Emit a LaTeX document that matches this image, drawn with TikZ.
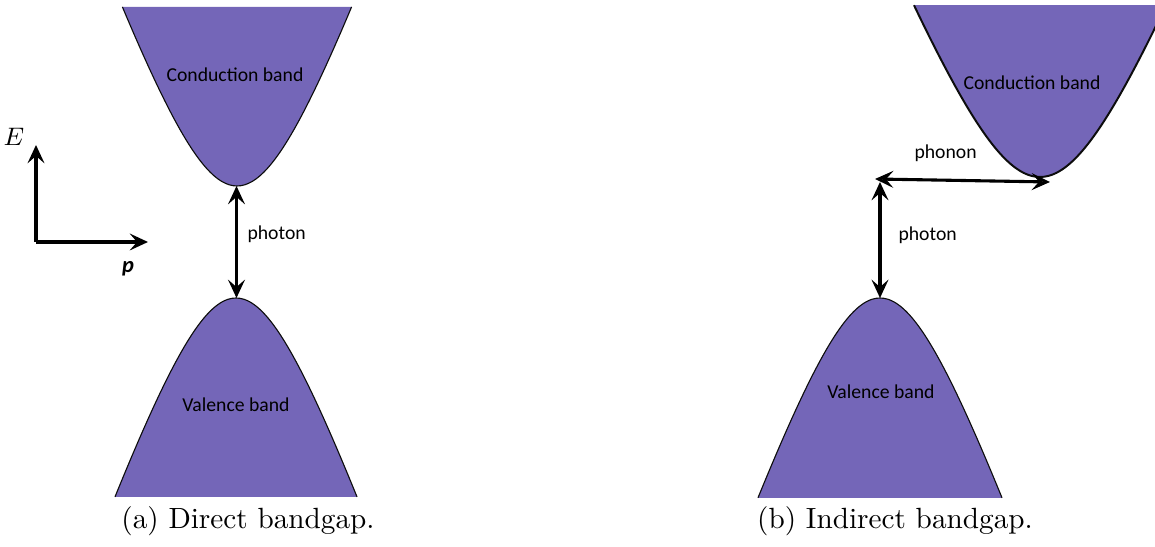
\documentclass[tikz,border=0pt]{standalone}
\usepackage{fontspec}
\newfontfamily\bandfont{Carlito}
\usepackage{tikz}
\usetikzlibrary{arrows.meta,positioning,calc}
\definecolor{bandFill}{HTML}{7466B8}
\definecolor{bandEdge}{gray}{0.05}

\begin{document}
\begin{tikzpicture}[x=0.0125cm, y=-0.0125cm,
      declare function={band(\w,\s)=195*(sqrt(1+(\w/(70*\s))^2)-1);},
      bandbody/.style={fill=bandFill, draw=none},
      bandline/.style={draw=bandEdge, line width=0.4pt},
      bandlabel/.style={font=\bandfont\fontsize{7}{8}\selectfont, text=black, inner sep=0pt},
      gaplabel/.style={font=\bandfont\fontsize{7}{8}\selectfont, inner sep=0pt, anchor=west},
      caplabel/.style={font=\fontsize{10.4}{12}\selectfont, inner sep=0pt},
      trans/.style={{Stealth[open, length=6.5pt, width=6pt, inset=2.6pt]}-{Stealth[open, length=6.5pt, width=6pt, inset=2.6pt]}, line width=1.1pt},
      axis/.style={-{Stealth[open, length=6.5pt, width=6pt, inset=2.6pt]}, line width=1.1pt}]
    \useasboundingbox (0,0) rectangle (1155,547);
    \clip (0,0) rectangle (1155,547);

    % (a) direct gap
    \fill[bandbody] plot[domain=-114.6:114.6, samples=61, smooth] ({237+\x}, {186-band(\x,1)}) -- cycle;
    \draw[bandline] plot[domain=-114.6:114.6, samples=61, smooth] ({237+\x}, {186-band(\x,1)});
    \fill[bandbody] plot[domain=-121:121, samples=61, smooth] ({236+\x}, {298+band(\x,0.985)}) -- cycle;
    \draw[bandline] plot[domain=-121:121, samples=61, smooth] ({236+\x}, {298+band(\x,0.985)});
    \coordinate (cbA) at (236.5,186);
    \coordinate (vbA) at (236.5,298);
    \node[bandlabel] (cbAtxt) at (235,75) {Conduction band};
    \node[bandlabel] (vbAtxt) at (236,405) {Valence band};
    \draw[trans] (vbA) -- (cbA);
    \node[gaplabel] (phA) at (247,234) {photon};

    % axes
    \coordinate (orig) at (36,242);
    \coordinate (eTip) at (36,145);
    \coordinate (pTip) at (148,242);
    \draw[axis] (orig) -- (eTip);
    \draw[axis] (orig) -- (pTip);
    \node[font=\fontsize{9}{10}\selectfont, inner sep=0pt] (eLab) at (14,137) {$E$};
    \node[font=\bandfont\bfseries\itshape\fontsize{8}{9}\selectfont, inner sep=0pt] (pLab) at (128,269) {p};

    % (b) indirect gap
    \fill[bandbody] plot[domain=-126:126, samples=61, smooth] ({1040+\x}, {177-band(\x,1.13)}) -- cycle;
    \draw[bandline, line width=0.7pt] plot[domain=-126:126, samples=61, smooth] ({1040+\x}, {177-band(\x,1.13)});
    \fill[bandbody] plot[domain=-122:122, samples=61, smooth] ({880+\x}, {298+band(\x,0.99)}) -- cycle;
    \draw[bandline] plot[domain=-122:122, samples=61, smooth] ({880+\x}, {298+band(\x,0.99)});
    \coordinate (vbB) at (880,298);
    \coordinate (kink) at (875,179);
    \coordinate (kinkUp) at (880,182);
    \coordinate (cbB) at (1050,182);
    \node[bandlabel] (cbBtxt) at (1032,83) {Conduction band};
    \node[bandlabel] (vbBtxt) at (881,392) {Valence band};
    \draw[trans] (vbB) -- (kinkUp);
    \draw[trans] (kink) -- (cbB);
    \node[gaplabel] (phB) at (898,235) {photon};
    \node[gaplabel] (pnB) at (914,153) {phonon};

    % captions
    \node[caplabel] (capA) at (248,521) {(a) Direct bandgap.};
    \node[caplabel] (capB) at (895,521) {(b) Indirect bandgap.};
  \end{tikzpicture}
\end{document}
